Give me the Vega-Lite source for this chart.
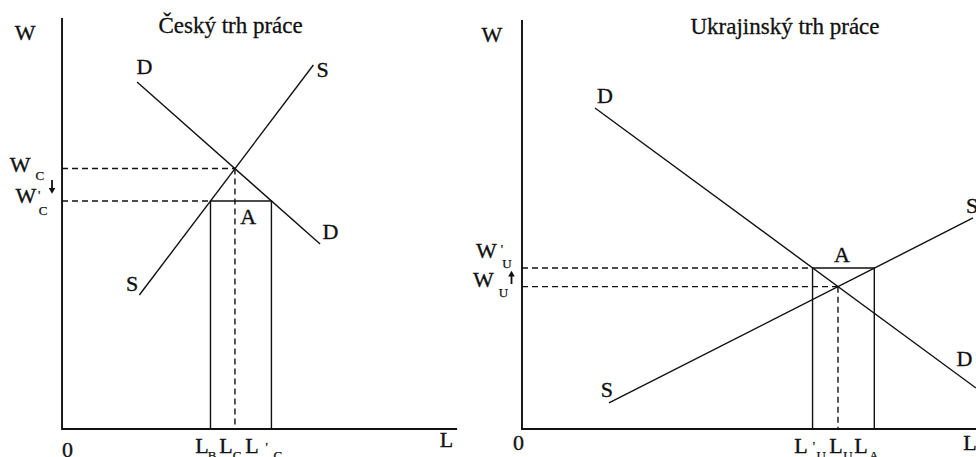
{
  "$schema": "https://vega.github.io/schema/vega-lite/v6.json",
  "padding": 0,
  "spacing": 5,
  "background": "white",
  "config": {"view": {"stroke": null}},
  "datasets": {
    "leftAxes": [
      {"id": "ax", "o": 1, "L": 0, "W": 10.05},
      {"id": "ax", "o": 2, "L": 0, "W": 0},
      {"id": "ax", "o": 3, "L": 10, "W": 0}
    ],
    "leftSolid": [
      {"id": "D", "o": 1, "L": 1.899, "W": 8.484},
      {"id": "D", "o": 2, "L": 6.532, "W": 4.523},
      {"id": "S", "o": 1, "L": 1.957, "W": 3.276},
      {"id": "S", "o": 2, "L": 6.362, "W": 8.9},
      {"id": "rect", "o": 1, "L": 3.758, "W": 0},
      {"id": "rect", "o": 2, "L": 3.758, "W": 5.575},
      {"id": "rect", "o": 3, "L": 5.3, "W": 5.575},
      {"id": "rect", "o": 4, "L": 5.3, "W": 0}
    ],
    "leftArrow": [
      {"id": "arrow", "o": 1, "L": -0.253, "W": 6.088},
      {"id": "arrow", "o": 2, "L": -0.253, "W": 5.844}
    ],
    "leftDashed": [
      {"id": "h1", "o": 1, "L": 0, "W": 6.37},
      {"id": "h1", "o": 2, "L": 4.377, "W": 6.37},
      {"id": "h2", "o": 1, "L": 0, "W": 5.575},
      {"id": "h2", "o": 2, "L": 3.758, "W": 5.575},
      {"id": "v", "o": 1, "L": 4.377, "W": 6.37},
      {"id": "v", "o": 2, "L": 4.377, "W": 0}
    ],
    "leftHeads": [{"L": -0.253, "W": 5.82}],
    "leftBig": [
      {"L": -0.937, "W": 9.511, "t": "W"},
      {"L": 2.089, "W": 8.68, "t": "D"},
      {"L": 6.595, "W": 8.606, "t": "S"},
      {"L": 6.797, "W": 4.645, "t": "D"},
      {"L": 1.772, "W": 3.374, "t": "S"},
      {"L": 4.709, "W": 5.012, "t": "A"},
      {"L": -1.063, "W": 6.284, "t": "W"},
      {"L": -0.917, "W": 5.526, "t": "W"},
      {"L": 0.139, "W": -0.685, "t": "0"},
      {"L": 3.544, "W": -0.587, "t": "L"},
      {"L": 4.152, "W": -0.587, "t": "L"},
      {"L": 4.81, "W": -0.587, "t": "L"},
      {"L": 9.734, "W": -0.44, "t": "L"}
    ],
    "leftSub": [
      {"L": -0.56, "W": 6.088, "t": "C"},
      {"L": -0.58, "W": 5.62, "t": "'"},
      {"L": -0.48, "W": 5.232, "t": "C"},
      {"L": 3.8, "W": -0.77, "t": "B"},
      {"L": 4.43, "W": -0.77, "t": "C"},
      {"L": 5.18, "W": -0.538, "t": "'"},
      {"L": 5.46, "W": -0.77, "t": "C"}
    ],
    "leftTitle": [{"L": 4.266, "W": 9.682, "t": "Český trh práce"}],
    "rightAxes": [
      {"id": "ax", "o": 1, "L": 0, "W": 10.0},
      {"id": "ax", "o": 2, "L": 0, "W": 0},
      {"id": "ax", "o": 3, "L": 10, "W": 0}
    ],
    "rightSolid": [
      {"id": "D", "o": 1, "L": 1.608, "W": 7.848},
      {"id": "D", "o": 2, "L": 10, "W": 1.002},
      {"id": "S", "o": 1, "L": 1.916, "W": 0.636},
      {"id": "S", "o": 2, "L": 9.934, "W": 5.159},
      {"id": "rect", "o": 1, "L": 6.4, "W": 0},
      {"id": "rect", "o": 2, "L": 6.4, "W": 3.936},
      {"id": "rect", "o": 3, "L": 7.76, "W": 3.936},
      {"id": "rect", "o": 4, "L": 7.76, "W": 0}
    ],
    "rightArrow": [
      {"id": "arrow", "o": 1, "L": -0.231, "W": 3.79},
      {"id": "arrow", "o": 2, "L": -0.231, "W": 3.545}
    ],
    "rightDashed": [
      {"id": "h1", "o": 1, "L": 0, "W": 3.936},
      {"id": "h1", "o": 2, "L": 6.4, "W": 3.936},
      {"id": "h2", "o": 1, "L": 0, "W": 3.48},
      {"id": "h2", "o": 2, "L": 6.96, "W": 3.48},
      {"id": "v", "o": 1, "L": 6.96, "W": 3.48},
      {"id": "v", "o": 2, "L": 6.96, "W": 0}
    ],
    "rightHeads": [{"L": -0.231, "W": 3.8}],
    "rightBig": [
      {"L": -0.661, "W": 9.462, "t": "W"},
      {"L": 1.828, "W": 7.971, "t": "D"},
      {"L": 9.912, "W": 5.281, "t": "S"},
      {"L": 9.747, "W": 1.54, "t": "D"},
      {"L": 1.872, "W": 0.782, "t": "S"},
      {"L": 7.048, "W": 4.083, "t": "A"},
      {"L": -0.782, "W": 4.181, "t": "W"},
      {"L": -0.848, "W": 3.472, "t": "W"},
      {"L": -0.077, "W": -0.513, "t": "0"},
      {"L": 6.145, "W": -0.587, "t": "L"},
      {"L": 6.916, "W": -0.587, "t": "L"},
      {"L": 7.467, "W": -0.587, "t": "L"},
      {"L": 9.868, "W": -0.513, "t": "L"}
    ],
    "rightSub": [
      {"L": -0.44, "W": 4.303, "t": "'"},
      {"L": -0.33, "W": 3.936, "t": "U"},
      {"L": -0.41, "W": 3.227, "t": "U"},
      {"L": 6.43, "W": -0.513, "t": "'"},
      {"L": 6.59, "W": -0.77, "t": "U"},
      {"L": 7.18, "W": -0.77, "t": "U"},
      {"L": 7.75, "W": -0.77, "t": "A"}
    ],
    "rightTitle": [{"L": 5.793, "W": 9.658, "t": "Ukrajinský trh práce"}]
  },
  "hconcat": [
    {
      "width": 465,
      "height": 457,
      "encoding": {
        "x": {"field": "L", "type": "quantitative", "scale": {"domain": [-1.57, 10.2], "nice": false, "zero": false}, "axis": null},
        "y": {"field": "W", "type": "quantitative", "scale": {"domain": [-0.685, 10.489], "nice": false, "zero": false}, "axis": null}
      },
      "layer": [
        {"data": {"name": "leftAxes"}, "mark": {"type": "line", "color": "#111", "strokeWidth": 1.9}, "encoding": {"detail": {"field": "id"}, "order": {"field": "o"}}},
        {"data": {"name": "leftSolid"}, "mark": {"type": "line", "color": "#111", "strokeWidth": 1.4}, "encoding": {"detail": {"field": "id"}, "order": {"field": "o"}}},
        {"data": {"name": "leftArrow"}, "mark": {"type": "line", "color": "#111", "strokeWidth": 1.8}, "encoding": {"detail": {"field": "id"}, "order": {"field": "o"}}},
        {"data": {"name": "leftDashed"}, "mark": {"type": "line", "color": "#111", "strokeWidth": 1.4, "strokeDash": [6, 4]}, "encoding": {"detail": {"field": "id"}, "order": {"field": "o"}}},
        {"data": {"name": "leftHeads"}, "mark": {"type": "point", "shape": "triangle-down", "filled": true, "size": 45, "color": "#111", "opacity": 1}, "encoding": {}},
        {"data": {"name": "leftBig"}, "mark": {"type": "text", "font": "Liberation Serif", "fontSize": 22, "align": "center", "baseline": "alphabetic", "color": "#111", "stroke": "#111", "strokeWidth": 0.35}, "encoding": {"text": {"field": "t"}}},
        {"data": {"name": "leftSub"}, "mark": {"type": "text", "font": "Liberation Serif", "fontSize": 13, "align": "center", "baseline": "alphabetic", "color": "#111", "stroke": "#111", "strokeWidth": 0.25}, "encoding": {"text": {"field": "t"}}},
        {"data": {"name": "leftTitle"}, "mark": {"type": "text", "font": "Liberation Serif", "fontSize": 23, "align": "center", "baseline": "alphabetic", "color": "#111", "stroke": "#111", "strokeWidth": 0.3}, "encoding": {"text": {"field": "t"}}}
      ]
    },
    {
      "width": 506,
      "height": 457,
      "encoding": {
        "x": {"field": "L", "type": "quantitative", "scale": {"domain": [-1.145, 10], "nice": false, "zero": false}, "axis": null},
        "y": {"field": "W", "type": "quantitative", "scale": {"domain": [-0.685, 10.489], "nice": false, "zero": false}, "axis": null}
      },
      "layer": [
        {"data": {"name": "rightAxes"}, "mark": {"type": "line", "color": "#111", "strokeWidth": 1.9}, "encoding": {"detail": {"field": "id"}, "order": {"field": "o"}}},
        {"data": {"name": "rightSolid"}, "mark": {"type": "line", "color": "#111", "strokeWidth": 1.4}, "encoding": {"detail": {"field": "id"}, "order": {"field": "o"}}},
        {"data": {"name": "rightArrow"}, "mark": {"type": "line", "color": "#111", "strokeWidth": 1.8}, "encoding": {"detail": {"field": "id"}, "order": {"field": "o"}}},
        {"data": {"name": "rightDashed"}, "mark": {"type": "line", "color": "#111", "strokeWidth": 1.4, "strokeDash": [6, 4]}, "encoding": {"detail": {"field": "id"}, "order": {"field": "o"}}},
        {"data": {"name": "rightHeads"}, "mark": {"type": "point", "shape": "triangle-up", "filled": true, "size": 45, "color": "#111", "opacity": 1}, "encoding": {}},
        {"data": {"name": "rightBig"}, "mark": {"type": "text", "font": "Liberation Serif", "fontSize": 22, "align": "center", "baseline": "alphabetic", "color": "#111", "stroke": "#111", "strokeWidth": 0.35}, "encoding": {"text": {"field": "t"}}},
        {"data": {"name": "rightSub"}, "mark": {"type": "text", "font": "Liberation Serif", "fontSize": 13, "align": "center", "baseline": "alphabetic", "color": "#111", "stroke": "#111", "strokeWidth": 0.25}, "encoding": {"text": {"field": "t"}}},
        {"data": {"name": "rightTitle"}, "mark": {"type": "text", "font": "Liberation Serif", "fontSize": 23, "align": "center", "baseline": "alphabetic", "color": "#111", "stroke": "#111", "strokeWidth": 0.3}, "encoding": {"text": {"field": "t"}}}
      ]
    }
  ]
}
